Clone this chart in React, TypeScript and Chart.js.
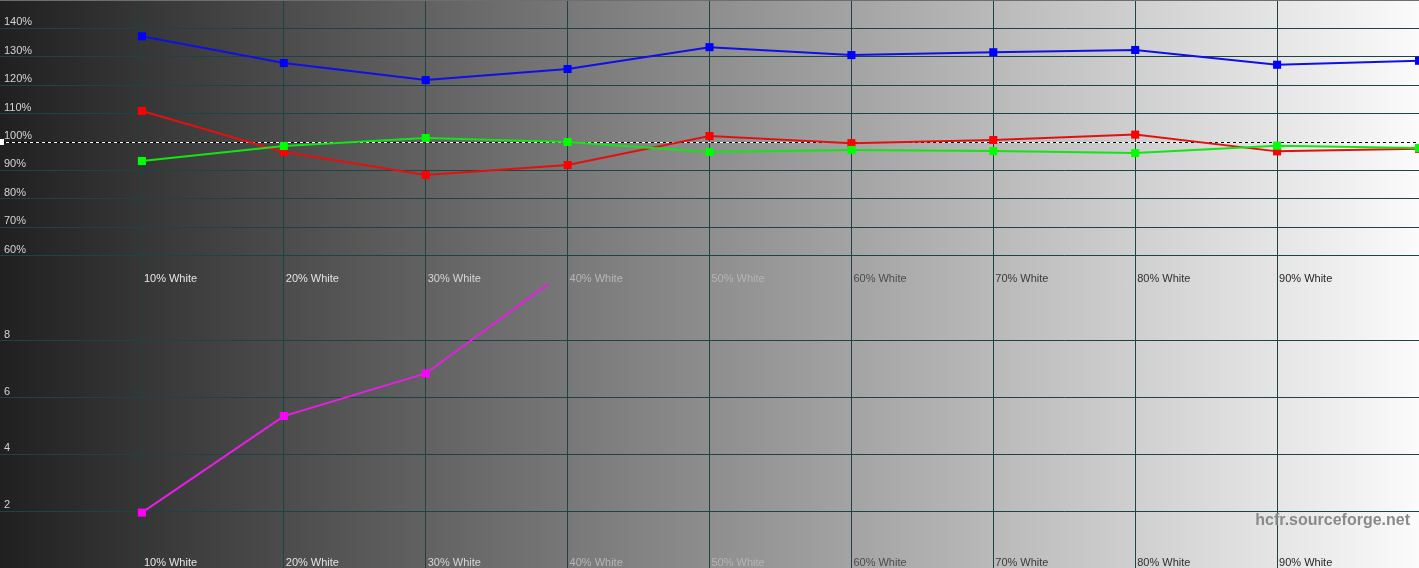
import { useEffect, useRef } from 'react';
import { Chart, registerables } from 'chart.js';

Chart.register(...registerables);

// grey levels measured (% of white)
const LEVELS = [10, 20, 30, 40, 50, 60, 70, 80, 90, 100];
const LEVEL_LABELS = [
  '10% White',
  '20% White',
  '30% White',
  '40% White',
  '50% White',
  '60% White',
  '70% White',
  '80% White',
  '90% White',
  '100% White',
];

// RGB levels, % of target
const RED = [110.9, 96.5, 88.4, 91.9, 102.1, 99.6, 100.7, 102.6, 96.7, 97.6];
const GREEN = [93.3, 98.6, 101.4, 100.0, 96.5, 97.2, 96.8, 96.1, 98.7, 97.9];
const BLUE = [137.2, 127.8, 121.8, 125.7, 133.4, 130.6, 131.6, 132.4, 127.2, 128.6];

// delta E per level (the rest runs off the top of the panel)
const DELTA_E = [1.95, 5.35, 6.85, 10.5];

const PCT_TICKS = [60, 70, 80, 90, 100, 110, 120, 130, 140];
const DE_TICKS = [2, 4, 6, 8];
const REFERENCE = 100;

const W = 1419;
const H = 284;
const FONT = 'Arial, "Liberation Sans", sans-serif';
const GRID = '#1d4444';
const X_LABEL_COLORS = [
  '#e6e6e6',
  '#e2e2e2',
  '#d6d6d6',
  '#b6b6b6',
  '#b4b4b4',
  '#4c4c4c',
  '#3a3a3a',
  '#303030',
  '#262626',
];

const backdrop = {
  id: 'backdrop',
  beforeDraw(chart: Chart) {
    const { ctx, width, height } = chart;
    const g = ctx.createLinearGradient(0, 0, width, 0);
    g.addColorStop(0, '#202020');
    g.addColorStop(1, '#fbfbfb');
    ctx.save();
    ctx.fillStyle = g;
    ctx.fillRect(0, 0, width, height);
    ctx.restore();
  },
};

const refLine = {
  id: 'refLine',
  beforeDatasetsDraw(chart: Chart) {
    const { ctx, chartArea } = chart;
    const y = Math.round(chart.scales.y.getPixelForValue(REFERENCE)) + 0.5;
    ctx.save();
    ctx.lineWidth = 1;
    ctx.setLineDash([3, 3]);
    ctx.strokeStyle = '#000';
    ctx.lineDashOffset = 3;
    ctx.beginPath();
    ctx.moveTo(chartArea.left, y);
    ctx.lineTo(chartArea.right, y);
    ctx.stroke();
    ctx.strokeStyle = '#fff';
    ctx.lineDashOffset = 0;
    ctx.beginPath();
    ctx.moveTo(chartArea.left, y);
    ctx.lineTo(chartArea.right, y);
    ctx.stroke();
    ctx.setLineDash([]);
    ctx.fillStyle = '#fff';
    ctx.fillRect(0, y - 3.5, 4, 6);
    ctx.fillStyle = '#6e6e6e';
    ctx.fillRect(0, 0, chart.width, 1);
    ctx.restore();
  },
};

const watermark = {
  id: 'watermark',
  beforeDatasetsDraw(chart: Chart) {
    const { ctx, chartArea } = chart;
    ctx.save();
    ctx.font = `bold 16px ${FONT}`;
    ctx.fillStyle = '#8a8a8a';
    ctx.textAlign = 'right';
    ctx.textBaseline = 'middle';
    ctx.fillText('hcfr.sourceforge.net', chartArea.right - 9, chartArea.top + 237);
    ctx.restore();
  },
};

// the axes take no room: their labels sit inside the plot
const noRoom = (s: any) => {
  if (s.isHorizontal()) s.height = 0;
  else s.width = 0;
  s.paddingTop = 0;
  s.paddingBottom = 0;
  s.paddingLeft = 0;
  s.paddingRight = 0;
};

function xScale() {
  return {
    type: 'linear' as const,
    min: 0,
    max: 100,
    afterBuildTicks: (s: any) => {
      s.ticks = LEVELS.slice(0, 9).map((value) => ({ value }));
    },
    afterFit: noRoom,
    border: { display: false },
    grid: { color: GRID, lineWidth: 1, drawTicks: false },
    ticks: {
      autoSkip: false,
      maxRotation: 0,
      mirror: true,
      align: 'start' as const,
      padding: -2,
      labelOffset: 2,
      font: { family: FONT, size: 11 },
      color: (c: any) => X_LABEL_COLORS[c.index] ?? '#333',
      callback: (v: any) => LEVEL_LABELS[LEVELS.indexOf(Number(v))],
    },
  };
}

function yScale(min: number, max: number, ticks: number[], fmt: (v: number) => string, offset: number) {
  return {
    type: 'linear' as const,
    min,
    max,
    afterBuildTicks: (s: any) => {
      s.ticks = ticks.map((value) => ({ value }));
    },
    afterFit: noRoom,
    border: { display: false },
    grid: { color: GRID, lineWidth: 1, drawTicks: false },
    ticks: {
      mirror: true,
      padding: 4,
      labelOffset: offset,
      font: { family: FONT, size: 11 },
      color: '#d4d4d4',
      callback: (v: any) => fmt(Number(v)),
    },
  };
}

function series(label: string, values: number[], line: string, mark: string) {
  return {
    label,
    data: values.map((y, i) => ({ x: LEVELS[i], y })),
    borderColor: line,
    backgroundColor: mark,
    pointBackgroundColor: mark,
    pointBorderWidth: 0,
    borderWidth: 2,
    pointStyle: 'rect' as const,
    pointRadius: 5.7,
    tension: 0,
  };
}

function Panel({ config }: { config: () => any }) {
  const ref = useRef<HTMLCanvasElement>(null);
  const chartRef = useRef<Chart | null>(null);

  useEffect(() => {
    if (!ref.current) return;
    const ctx = ref.current.getContext('2d');
    if (!ctx) return;
    chartRef.current = new Chart(ctx, config());
    return () => {
      chartRef.current?.destroy();
      chartRef.current = null;
    };
  }, [config]);

  return (
    <div style={{ width: W, height: H, position: 'relative' }}>
      <canvas ref={ref} />
    </div>
  );
}

const baseOptions = {
  responsive: true,
  maintainAspectRatio: false,
  animation: false as const,
  layout: { padding: 0, autoPadding: false },
  plugins: { legend: { display: false }, tooltip: { enabled: false } },
};

const rgbConfig = () => ({
  type: 'line' as const,
  data: {
    datasets: [
      series('Green', GREEN, '#12e612', '#00ff00'),
      series('Red', RED, '#e41010', '#ff0000'),
      series('Blue', BLUE, '#1010e6', '#0000ff'),
    ],
  },
  options: {
    ...baseOptions,
    scales: {
      x: xScale(),
      y: yScale(50, 150, PCT_TICKS, (v) => `${v}%`, -6),
    },
  },
  plugins: [backdrop, refLine],
});

const deltaConfig = () => ({
  type: 'line' as const,
  data: {
    datasets: [series('dE', DELTA_E, '#e61ee6', '#ff00ff')],
  },
  options: {
    ...baseOptions,
    scales: {
      x: xScale(),
      y: yScale(0, 10, DE_TICKS, (v) => `${v}`, -6),
    },
  },
  plugins: [backdrop, watermark],
});

export default function App() {
  useEffect(() => {
    document.body.style.margin = '0';
  }, []);
  return (
    <div style={{ width: W }}>
      <Panel config={rgbConfig} />
      <Panel config={deltaConfig} />
    </div>
  );
}
